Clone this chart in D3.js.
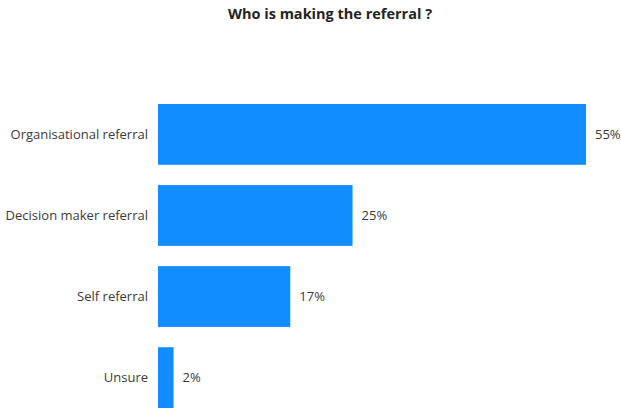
<!DOCTYPE html>
<html>
<head>
<meta charset="utf-8">
<script src="https://cdn.jsdelivr.net/npm/d3@7"></script>
<style>
  html, body { margin: 0; padding: 0; background: #fff; }
  svg { display: block; }
</style>
</head>
<body>
<svg id="chart" width="621" height="408"></svg>
<script>
const categories = ["Organisational referral", "Decision maker referral", "Self referral", "Unsure"];
const values = [55, 25, 17, 2];
const valueLabels = ["55%", "25%", "17%", "2%"];

const svg = d3.select("#chart");
const font = "'Open Sans', 'Segoe UI', sans-serif";

const x = d3.scaleLinear().domain([0, 55]).range([158, 586]);
const y = d3.scaleBand().domain(categories).range([104, 408]).paddingInner(0.25).paddingOuter(0);

svg.append("text")
  .attr("x", 330).attr("y", 19)
  .attr("text-anchor", "middle")
  .attr("font-family", font)
  .attr("font-weight", "bold")
  .attr("font-size", 14.5)
  .attr("fill", "#252423")
  .text("Who is making the referral ?");

const rows = categories.map((c, i) => ({ c, v: values[i], label: valueLabels[i] }));

svg.selectAll("rect.bar").data(rows).join("rect")
  .attr("class", "bar")
  .attr("x", x(0))
  .attr("y", d => y(d.c))
  .attr("width", d => x(d.v) - x(0))
  .attr("height", y.bandwidth())
  .attr("fill", "#118dff");

// category axis on the left, no line or ticks
const yAxis = svg.append("g")
  .attr("transform", `translate(${x(0)},0)`)
  .call(d3.axisLeft(y).tickSize(0).tickPadding(10));
yAxis.select(".domain").remove();
yAxis.selectAll("text")
  .attr("font-family", font)
  .attr("font-size", 13)
  .attr("fill", "#3b3a39");

svg.selectAll("text.val").data(rows).join("text")
  .attr("class", "val")
  .attr("x", d => x(d.v) + 9)
  .attr("y", d => y(d.c) + y.bandwidth() / 2)
  .attr("dy", "0.35em")
  .attr("font-family", font)
  .attr("font-size", 13)
  .attr("fill", "#3b3a39")
  .text(d => d.label);
</script>
</body>
</html>
